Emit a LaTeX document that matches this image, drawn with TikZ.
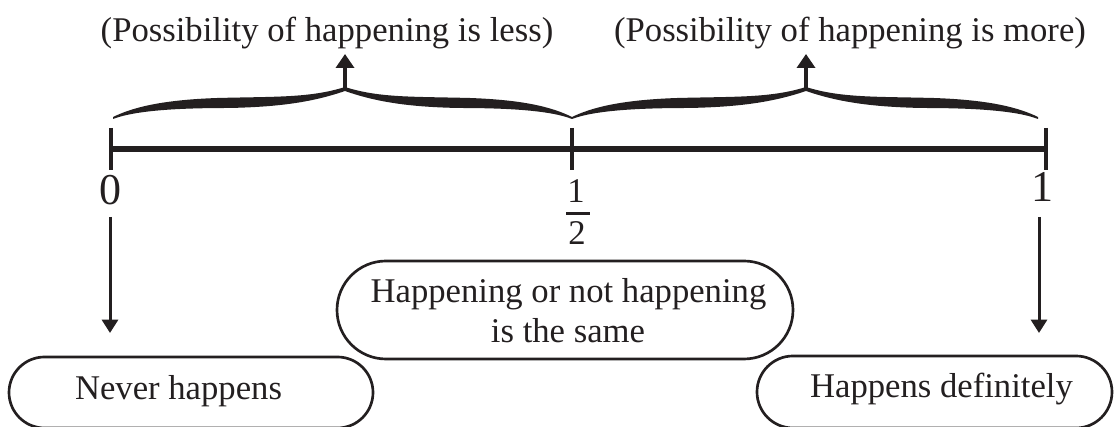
\documentclass[tikz,border=0pt]{standalone}
\usepackage{fontspec}
\setmainfont{Liberation Serif}
\usetikzlibrary{arrows.meta,shapes.misc}
\definecolor{ink}{HTML}{231F20}
\begin{document}
\begin{tikzpicture}[x=0.75pt,y=0.75pt,
  txt/.style={font=\fontsize{26}{30}\selectfont, text=ink, inner sep=0pt},
  big/.style={font=\fontsize{33}{38}\selectfont, text=ink, inner sep=0pt},
  pill/.style={draw=ink, line width=2pt, rounded rectangle, inner sep=0pt},
  axisline/.style={draw=ink, line width=4.5pt},
  tickline/.style={draw=ink, line width=2.6pt},
  uparr/.style={draw=ink, line width=3.4pt, -{Triangle[length=10.5pt,width=13.5pt]}},
  downarr/.style={draw=ink, line width=2.25pt, -{Triangle[length=10pt,width=12pt]}},
  halfbr/.pic={\fill[ink] (0,1) .. controls (0.08,10) and (0.2,18) .. (0.45,20) .. controls (0.7,21.5) and (0.85,20) .. (1,31) -- (1,27) .. controls (0.85,15) and (0.7,11) .. (0.5,10) .. controls (0.3,10) and (0.1,8) .. (0,-1) -- cycle;},
]
\useasboundingbox (0,0) rectangle (1114,427);
\clip (0,0) rectangle (1114,427);

% top labels
\node[txt, anchor=base] (lblless) at (327,385) {(Possibility of happening is less)};
\node[txt, anchor=base] (lblmore) at (850,385) {(Possibility of happening is more)};

% braces
\pic[xscale=232] at (113,309) {halfbr};
\pic[xscale=-227] at (572,309) {halfbr};
\pic[xscale=234] at (572,309) {halfbr};
\pic[xscale=-232] at (1038,309) {halfbr};

% up arrows
\coordinate (pk1) at (345,338);
\coordinate (up1) at (345,373);
\coordinate (pk2) at (806,338);
\coordinate (up2) at (806,373);
\draw[uparr] (pk1) -- (up1);
\draw[uparr] (pk2) -- (up2);

% axis and ticks
\coordinate (a0) at (111,278);
\coordinate (a1) at (1046,278);
\draw[axisline] (a0) -- (a1);
\coordinate (t0a) at (111,299); \coordinate (t0b) at (111,257);
\coordinate (tha) at (572,299); \coordinate (thb) at (572,257);
\coordinate (t1a) at (1046,299); \coordinate (t1b) at (1046,257);
\draw[tickline] (t0a) -- (t0b);
\draw[tickline] (tha) -- (thb);
\draw[tickline] (t1a) -- (t1b);

% numbers
\node[big, anchor=base] (n0) at (110,222) {0};
\node[big, anchor=base] (n1) at (1042,225) {1};
\node[txt, anchor=base] (hnum) at (576,224) {1};
\node[txt, anchor=base] (hden) at (577,182) {2};
\coordinate (fb0) at (566,213);
\coordinate (fb1) at (590,213);
\draw[ink, line width=2.25pt] (fb0) -- (fb1);

% down arrows
\coordinate (d0s) at (110,210); \coordinate (d0e) at (110,94);
\coordinate (d1s) at (1039,210); \coordinate (d1e) at (1039,94);
\draw[downarr] (d0s) -- (d0e);
\draw[downarr] (d1s) -- (d1e);

% boxes
\node[pill, minimum width=342pt, minimum height=73.5pt] (bmid) at (565,117) {};
\node[txt, anchor=base] (mid1) at (568.5,124) {Happening or not happening};
\node[txt, anchor=base] (mid2) at (568,84) {is the same};

\node[pill, minimum width=273pt, minimum height=53.25pt] (bnever) at (191,34.5) {};
\node[txt, anchor=base] (tnever) at (178.5,27) {Never happens};

\node[pill, minimum width=266.25pt, minimum height=54pt] (bdef) at (934.5,35) {};
\node[txt, anchor=base] (tdef) at (941.5,29) {Happens definitely};
\end{tikzpicture}
\end{document}
